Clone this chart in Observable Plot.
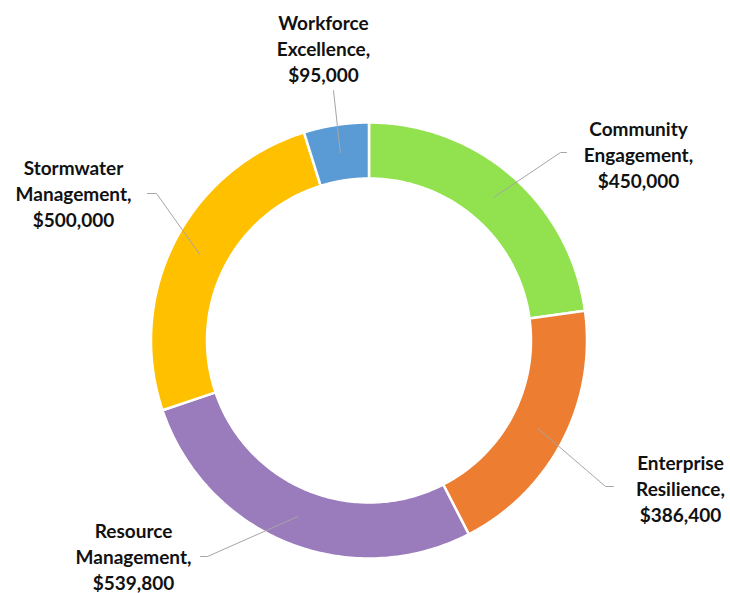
<!DOCTYPE html>
<html><head><meta charset="utf-8">
<script src="https://cdn.jsdelivr.net/npm/d3@7"></script>
<script src="https://cdn.jsdelivr.net/npm/@observablehq/plot@0.6"></script>
<style>body{margin:0;background:#fff}</style>
</head><body><div id="chart"></div>
<script>
const categories = ["Community Engagement", "Enterprise Resilience", "Resource Management", "Stormwater Management", "Workforce Excellence"];
const labelLines = [["Community","Engagement,"],["Enterprise","Resilience,"],["Resource","Management,"],["Stormwater","Management,"],["Workforce","Excellence,"]];
const values = [450000, 386400, 539800, 500000, 95000];
const colors = ["#92E24F", "#ED7D31", "#9A7BBC", "#FFC000", "#5B9BD5"];

// layout (not data)
const W = 730, H = 593, cx = 368.5, cy = 340, rOuter = 218, rInner = 162, rLeader = 190;
const labelPos = [ {x:638, y:153}, {x:680, y:487}, {x:133, y:555}, {x:73, y:192}, {x:323, y:47} ];
const elbows = [ [[560,152],[566,152]], [[605,486],[613,486]], [[207,556],[200,556]], [[156,193],[147,193]], [[333,90]] ];

const fmt = d3.format("$,");
const pie = d3.pie().sort(null).value(d => d)(values);
const pt = (a, r) => ({x: cx + r*Math.sin(a), y: cy - r*Math.cos(a)});

const arcPts = [];
pie.forEach((p, i) => {
  const n = 120;
  for (let k = 0; k <= n; k++) { const a = p.startAngle + (p.endAngle - p.startAngle)*k/n; arcPts.push({...pt(a, rOuter), c: categories[i]}); }
  for (let k = n; k >= 0; k--) { const a = p.startAngle + (p.endAngle - p.startAngle)*k/n; arcPts.push({...pt(a, rInner), c: categories[i]}); }
  arcPts.push({...pt(p.startAngle, rOuter), c: categories[i]});
});

const leaderPts = [];
pie.forEach((p, i) => {
  const m = (p.startAngle + p.endAngle)/2;
  leaderPts.push({...pt(m, rLeader), c: categories[i]});
  elbows[i].forEach(([x,y]) => leaderPts.push({x, y, c: categories[i]}));
});

const labels = categories.map((c, i) => ({x: labelPos[i].x, y: labelPos[i].y, t: labelLines[i].join("\n") + "\n" + fmt(values[i])}));

const chart = Plot.plot({
  width: W, height: H, margin: 0,
  x: {domain: [0, W], range: [0, W], axis: null},
  y: {domain: [0, H], range: [0, H], axis: null},
  color: {domain: categories, range: colors},
  marks: [
    Plot.line(arcPts, {x: "x", y: "y", z: "c", fill: "c", stroke: "white", strokeWidth: 2.5, curve: "linear"}),
    Plot.line(leaderPts, {x: "x", y: "y", z: "c", stroke: "#A6A6A6", strokeWidth: 1}),
    Plot.text(labels, {x: "x", y: "y", text: "t", lineAnchor: "middle", textAnchor: "middle", fontSize: 19, fontWeight: "bold", fontFamily: "Lato", fill: "#111", lineHeight: 1.37})
  ]
});
document.getElementById("chart").appendChild(chart);
</script>
</body></html>
